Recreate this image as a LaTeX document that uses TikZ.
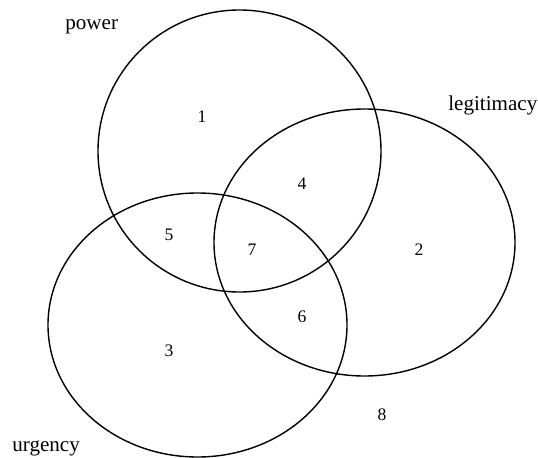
\documentclass[tikz,border=0pt]{standalone}
\usepackage{fontspec}
\setmainfont{Liberation Serif}
\begin{document}
\begin{tikzpicture}
		\useasboundingbox (0,0) rectangle (10.76,9.14);
		% Kreise
		\draw[thick] (4.79,6.12) ellipse (2.83 and 2.82);
		\draw[thick] (7.29,4.29) ellipse (3.01 and 2.67);
		\draw[thick] (3.95,2.64) ellipse (2.99 and 2.64);
		% Namen
		\node[anchor=base west,inner sep=0] (power) at (1.30,8.55) {\large power};
		\node[anchor=base west,inner sep=0] (legitimacy) at (8.96,6.93) {\large legitimacy};
		\node[anchor=base west,inner sep=0] (urgency) at (0.24,0.12) {\large urgency};
		% Bereiche
		\node (r1) at (4.04,6.80) {1};
		\node (r2) at (8.38,4.14) {2};
		\node (r3) at (3.38,2.12) {3};
		\node (r4) at (6.04,5.46) {4};
		\node (r5) at (3.38,4.44) {5};
		\node (r6) at (6.04,2.80) {6};
		\node (r7) at (5.04,4.14) {7};
		\node (r8) at (7.64,0.84) {8};
	\end{tikzpicture}
\end{document}
